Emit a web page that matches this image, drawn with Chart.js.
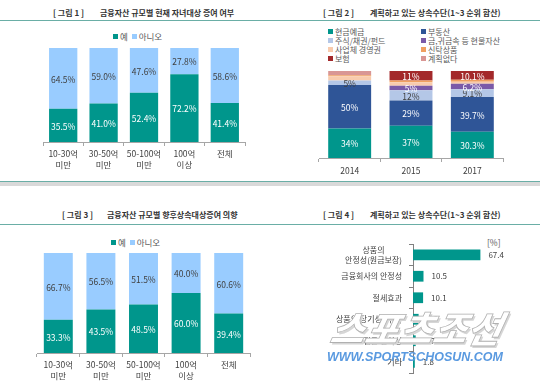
<!DOCTYPE html>
<html>
<head>
<meta charset="utf-8">
<script src="https://cdn.jsdelivr.net/npm/chart.js@4.4.1/dist/chart.umd.min.js"></script>
<style>
  body { margin: 0; background: #fff; }
  #page { position: relative; width: 540px; height: 387px; overflow: hidden; font-family: 'Noto Sans CJK KR', sans-serif; color: #404040; }
  canvas { position: absolute; }
  .t { position: absolute; font-size: 8px; font-weight: 700; color: #333; white-space: nowrap; line-height: 10px; }
  .lg { position: absolute; font-size: 8.5px; color: #595959; white-space: nowrap; line-height: 10px; }
  .sq { display: inline-block; width: 5px; height: 5px; margin-right: 2px; vertical-align: 1px; }
  .rule { position: absolute; left: 0; width: 540px; height: 1px; background: #6aaea6; }
  .band { position: absolute; left: 0; width: 540px; height: 4px; background: #d9d9d9; }
</style>
</head>
<body>
<div id="page">
  <div class="t" style="left:53px;top:8px;">[ 그림 1 ]</div>
  <div class="t" style="left:100px;top:8px;">금융자산 규모별 현재 자녀대상 증여 여부</div>
  <div class="t" style="left:323px;top:8px;">[ 그림 2 ]</div>
  <div class="t" style="left:370px;top:8px;">계획하고 있는 상속수단(1~3 순위 합산)</div>
  <div class="t" style="left:62px;top:210px;">[ 그림 3 ]</div>
  <div class="t" style="left:107px;top:210px;">금융자산 규모별 향후상속대상증여 의향</div>
  <div class="t" style="left:323px;top:210px;">[ 그림 4 ]</div>
  <div class="t" style="left:370px;top:210px;">계획하고 있는 상속수단(1~3 순위 합산)</div>

  <div class="rule" style="top:20px;"></div>
  <div class="rule" style="top:181px;"></div>
  <div class="band" style="top:182px;"></div>
  <div class="rule" style="top:224px;"></div>

  <div class="lg" style="left:113px;top:31px;"><span class="sq" style="background:#00968c"></span>예 &nbsp;<span class="sq" style="background:#99ccff"></span>아니오</div>
  <div class="lg" style="left:111px;top:237px;"><span class="sq" style="background:#00968c"></span>예 &nbsp;<span class="sq" style="background:#99ccff"></span>아니오</div>
  <div id="lg2"></div>
  <div class="lg" style="left:487px;top:237px;">[%]</div>

  <canvas id="c1" width="270" height="140" style="left:0;top:40px;"></canvas>
  <canvas id="c2" width="270" height="125" style="left:270px;top:60px;"></canvas>
  <canvas id="c3" width="270" height="142" style="left:0;top:245px;"></canvas>
  <canvas id="c4" width="270" height="152" style="left:270px;top:235px;"></canvas>

  <div style="position:absolute;left:332px;top:300px;font-size:37px;font-weight:900;font-style:italic;color:#fff;-webkit-text-stroke:0.8px #b0b0b0;text-shadow:2px 2px 0 #d6d6d6;transform:skewX(-12deg);white-space:nowrap;">스포츠조선</div>
  <div style="position:absolute;left:327px;top:350px;font-family:'Liberation Sans',sans-serif;font-size:12.5px;font-weight:700;font-style:italic;color:#5a9ae0;white-space:nowrap;">WWW.SPORTSCHOSUN.COM</div>
</div>

<script>
const TEAL = '#00968c';
const SKY = '#99ccff';

// 그림 1, 3
const sizeLabels = [['10-30억', '미만'], ['30-50억', '미만'], ['50-100억', '미만'], ['100억', '이상'], ['전체']];
const giftYes = [35.5, 41.0, 52.4, 72.2, 41.4];
const giftNo = [64.5, 59.0, 47.6, 27.8, 58.6];
const planYes = [33.3, 43.5, 48.5, 60.0, 39.4];
const planNo = [66.7, 56.5, 51.5, 40.0, 60.6];

// 그림 2
const years = ['2014', '2015', '2017'];
const meansNames = ['현금예금', '부동산', '주식/채권/펀드', '금,귀금속 등 현물자산', '사업체 경영권', '신탁상품', '보험', '계획없다'];
const meansColors = ['#00968c', '#2f5597', '#b4c7e7', '#7a5aa8', '#f8cbad', '#f0a060', '#a3292b', '#d99694'];
const cash = [34, 37, 30.3];
const realEstate = [50, 29, 39.7];
const stocks = [5, 12, 9.1];
const gold = [0, 5, 6.2];
const business = [5, 4, 2.3];
const trust = [1, 2, 2.3];
const insurance = [0, 11, 10.1];
const noPlan = [5, 0, 0];

// 그림 4
const reasonLabels = [['상품의', '안정성(원금보장)'], ['금융회사의 안정성'], ['절세효과'], ['상품의 장기성(기간)'], ['접근 편의성'], ['기타']];
const reasonValues = [67.4, 10.5, 10.1, 5.6, 2.7, 1.8];

Chart.defaults.font.family = "'Noto Sans CJK KR', sans-serif";
Chart.defaults.animation = false;

const barLabels = {
    id: 'barLabels',
    afterDatasetsDraw(chart, args, opts) {
        const ctx = chart.ctx;
        chart.data.datasets.forEach((ds, i) => {
            if (!ds.labelColor) return;
            chart.getDatasetMeta(i).data.forEach((el, j) => {
                const v = ds.data[j];
                if (!v) return;
                ctx.save();
                ctx.font = opts.font;
                ctx.fillStyle = ds.labelColor;
                ctx.textBaseline = 'middle';
                if (opts.horizontal) {
                    ctx.textAlign = 'left';
                    ctx.fillText(opts.format(v), el.x + 8, el.y);
                } else {
                    ctx.textAlign = 'center';
                    ctx.fillText(opts.format(v), el.x, (el.y + el.base) / 2 + 1);
                }
                ctx.restore();
            });
        });
    }
};

function yesNoChart(id, yes, no, pad, barPct) {
    new Chart(document.getElementById(id), {
        type: 'bar',
        data: {
            labels: sizeLabels,
            datasets: [
                { label: '예', data: yes, backgroundColor: TEAL, labelColor: '#ffffff' },
                { label: '아니오', data: no, backgroundColor: SKY, labelColor: '#404040' }
            ]
        },
        options: {
            responsive: false,
            layout: { padding: pad },
            datasets: { bar: { categoryPercentage: 1, barPercentage: barPct } },
            plugins: {
                legend: { display: false },
                tooltip: { enabled: false },
                barLabels: { font: "8.5px 'Noto Sans CJK KR'", format: v => v.toFixed(1) + '%' }
            },
            scales: {
                x: {
                    stacked: true,
                    grid: { drawOnChartArea: false, tickLength: 4, color: '#a6a6a6' },
                    border: { color: '#a6a6a6' },
                    ticks: { color: '#404040', font: { size: 8.5 }, padding: 3, maxRotation: 0 },
                    afterFit: s => { s.height = 30; }
                },
                y: { stacked: true, display: false, min: 0, max: 100 }
            }
        },
        plugins: [barLabels]
    });
}

yesNoChart('c1', giftYes, giftNo, { left: 43, right: 25, top: 8, bottom: 8 }, 0.7);
yesNoChart('c3', planYes, planNo, { left: 37, right: 20, top: 8, bottom: 4 }, 0.68);

// legend for 그림 2
const lg2 = document.getElementById('lg2');
meansNames.forEach((name, i) => {
    const d = document.createElement('div');
    d.className = 'lg';
    d.style.left = (i % 2 === 0 ? 328 : 421) + 'px';
    d.style.top = (27 + Math.floor(i / 2) * 9) + 'px';
    d.style.fontSize = '8px';
    d.innerHTML = '<span class="sq" style="background:' + meansColors[i] + '"></span>' + name;
    lg2.appendChild(d);
});

const meansData = [cash, realEstate, stocks, gold, business, trust, insurance, noPlan];
const meansLabelColors = ['#ffffff', '#ffffff', '#404040', '#ffffff', null, null, '#ffffff', null];

new Chart(document.getElementById('c2'), {
    type: 'bar',
    data: {
        labels: years,
        datasets: meansNames.map((name, i) => ({
            label: name,
            data: meansData[i],
            backgroundColor: meansColors[i],
            labelColor: meansLabelColors[i]
        }))
    },
    options: {
        responsive: false,
        layout: { padding: { left: 49, right: 37, top: 11, bottom: 8 } },
        datasets: { bar: { categoryPercentage: 1, barPercentage: 0.7 } },
        plugins: {
            legend: { display: false },
            tooltip: { enabled: false },
            barLabels: { font: "8.5px 'Noto Sans CJK KR'", format: v => v + '%' }
        },
        scales: {
            x: {
                stacked: true,
                grid: { drawOnChartArea: false, tickLength: 4, color: '#a6a6a6' },
                border: { color: '#a6a6a6' },
                ticks: { color: '#404040', font: { size: 8.5 }, padding: 4 },
                afterFit: s => { s.height = 19; }
            },
            y: { stacked: true, display: false, min: 0, max: 100 }
        }
    },
    plugins: [barLabels]
});

const reasonTicks = {
    id: 'reasonTicks',
    afterDraw(chart) {
        const ctx = chart.ctx;
        const yScale = chart.scales.y;
        const right = chart.chartArea.left - 11;
        ctx.save();
        ctx.font = "8px 'Noto Sans CJK KR'";
        ctx.fillStyle = '#404040';
        ctx.textBaseline = 'middle';
        ctx.textAlign = 'center';
        reasonLabels.forEach((lines, i) => {
            const y = yScale.getPixelForValue(i);
            const w = Math.max(...lines.map(l => ctx.measureText(l).width));
            const cx = right - w / 2;
            lines.forEach((l, k) => {
                ctx.fillText(l, cx, y + (k - (lines.length - 1) / 2) * 10.5);
            });
        });
        ctx.restore();
    }
};

new Chart(document.getElementById('c4'), {
    type: 'bar',
    data: {
        labels: reasonLabels.map(l => l.join(' ')),
        datasets: [{ label: '상속수단', data: reasonValues, backgroundColor: TEAL, labelColor: '#404040' }]
    },
    options: {
        indexAxis: 'y',
        responsive: false,
        layout: { padding: { left: 139, right: 27, top: 9, bottom: 14 } },
        datasets: { bar: { categoryPercentage: 1, barPercentage: 0.5 } },
        plugins: {
            legend: { display: false },
            tooltip: { enabled: false },
            barLabels: { horizontal: true, font: "8px 'Noto Sans CJK KR'", format: v => v.toFixed(1) }
        },
        scales: {
            x: { display: false, min: 0, max: 100 },
            y: {
                grid: { drawOnChartArea: false, tickLength: 4, color: '#808080' },
                border: { color: '#808080' },
                ticks: { display: false },
                afterFit: s => { s.height = s.height; s.width = 4; }
            }
        }
    },
    plugins: [barLabels, reasonTicks]
});
</script>
</body>
</html>
